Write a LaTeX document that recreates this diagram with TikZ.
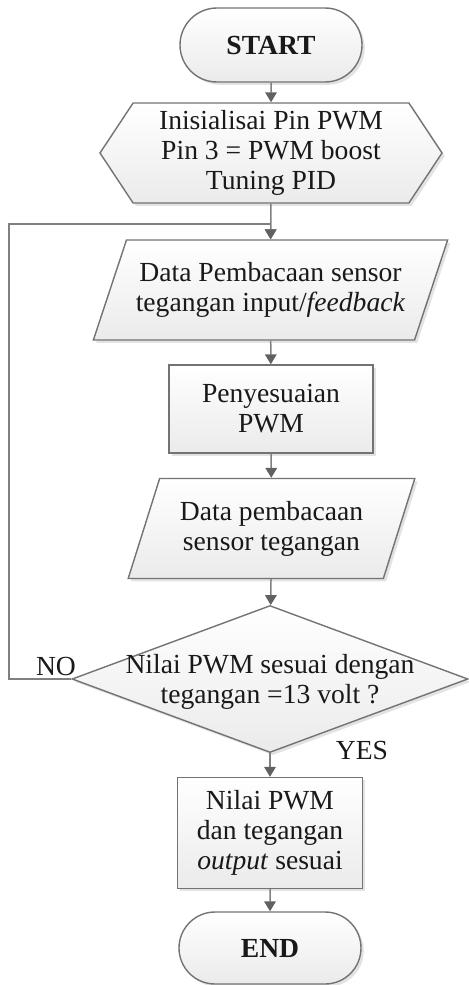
\documentclass[tikz,border=0pt]{standalone}
\usepackage{fontspec}
\setmainfont{Liberation Serif}
\usepackage{tikz}
\usetikzlibrary{arrows.meta,positioning,shapes.geometric,shapes.misc,shapes.symbols,shadows}
\usepackage{xcolor}

\begin{document}
\begin{tikzpicture}[x=0.5pt, y=-0.5pt,
  every node/.style={font=\fontsize{13.8}{15}\selectfont, text=black!90},
  box/.style={draw=black!55, line width=0.7pt, top color=white, bottom color=black!8,
    drop shadow={shadow xshift=1.4pt, shadow yshift=-1.4pt, opacity=0.22}, align=center, inner sep=1pt},
  terminal/.style={box, rounded rectangle, minimum width=93pt, minimum height=37pt},
  prep/.style={box, signal, signal to=west and east, signal pointer angle=113,
    minimum width=171pt, minimum height=50pt},
  io/.style={box, trapezium, trapezium stretches=true, minimum height=50pt},
  process/.style={box, rectangle},
  decision/.style={box, diamond, minimum width=198pt, minimum height=73.5pt},
  arr/.style={-{Triangle[length=5pt, width=5.8pt, color=black!62]}, line width=0.75pt, black!50},
  tag/.style={inner sep=0pt},
]
\useasboundingbox (0,0) rectangle (468,985);
\node[terminal] (start) at (271,45) {\textbf{START}};
\node[prep] (init) at (271,153)
  {Inisialisai Pin PWM\\Pin 3 = PWM boost\\Tuning PID};
\node[io, trapezium left angle=62, trapezium right angle=118, minimum width=177.5pt] (read1) at (270.5,290)
  {Data Pembacaan sensor\\tegangan input/\textit{feedback}};
\node[process, minimum width=102pt, minimum height=44pt] (pwm) at (271,409)
  {Penyesuaian\\PWM};
\node[io, trapezium left angle=66, trapezium right angle=114, minimum width=143.5pt] (read2) at (271.5,528.5)
  {Data pembacaan\\sensor tegangan};
\node[decision, label={[align=center, yshift=-1.5pt]center:Nilai PWM sesuai dengan\\tegangan =13 volt ?}] (check) at (270,679) {};
\node[process, minimum width=92.5pt, minimum height=55.5pt] (out) at (270,833)
  {Nilai PWM\\dan tegangan\\\textit{output} sesuai};
\node[terminal, minimum height=36pt] (end) at (270,948) {\textbf{END}};
\node[tag] (no) at (56,666) {NO};
\node[tag] (yes) at (362,750) {YES};
\coordinate (loop) at (9,224);
\draw[arr] (start) -- (init);
\draw[arr] (init) -- (read1);
\draw[arr] (read1) -- (pwm);
\draw[arr] (pwm) -- (read2);
\draw[arr] (read2) -- (check);
\draw[arr] (check) -- (out);
\draw[arr] (out) -- (end);
\draw[arr] (check.west) -| (loop) -| (read1.north);
\end{tikzpicture}
\end{document}
